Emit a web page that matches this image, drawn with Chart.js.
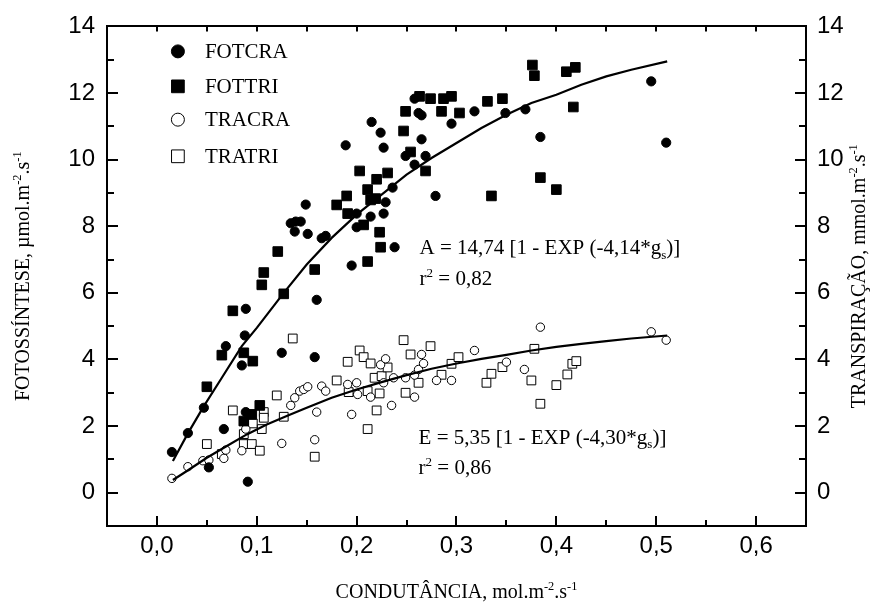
<!DOCTYPE html>
<html>
<head>
<meta charset="utf-8">
<script src="https://cdn.jsdelivr.net/npm/chart.js@4.4.0/dist/chart.umd.min.js"></script>
<style>
html, body { margin: 0; padding: 0; background: #fff; }
</style>
</head>
<body>
<canvas id="chart" width="886" height="612"></canvas>
<script>
// ===========================================
// Data
// ===========================================

// Tick labels
var xTickValues = [0, 0.1, 0.2, 0.3, 0.4, 0.5, 0.6];
var xTickLabels = ["0,0", "0,1", "0,2", "0,3", "0,4", "0,5", "0,6"];
var xMinorValues = [0.05, 0.15, 0.25, 0.35, 0.45, 0.55];
var yTickValues = [0, 2, 4, 6, 8, 10, 12, 14];
var yTickLabels = ["0", "2", "4", "6", "8", "10", "12", "14"];
var yMinorValues = [1, 3, 5, 7, 9, 11, 13];

var seriesNames = ["FOTCRA", "FOTTRI", "TRACRA", "TRATRI"];

// [condutancia, valor]
var fotcra = [
	[0.015, 1.22], [0.031, 1.79], [0.047, 2.55], [0.052, 0.76], [0.067, 1.91],
	[0.085, 3.82], [0.088, 4.72], [0.089, 5.52], [0.069, 4.40], [0.089, 2.42],
	[0.091, 0.33], [0.125, 4.20], [0.158, 4.07], [0.160, 5.79], [0.134, 8.09],
	[0.139, 8.14], [0.144, 8.14], [0.138, 7.84], [0.149, 8.65], [0.151, 7.77],
	[0.165, 7.64], [0.169, 7.71], [0.189, 10.43], [0.195, 6.82], [0.200, 8.38],
	[0.200, 7.97], [0.214, 8.29], [0.215, 11.13], [0.224, 10.81], [0.227, 10.36],
	[0.227, 8.38], [0.229, 8.72], [0.236, 9.16], [0.238, 7.37], [0.249, 10.11],
	[0.258, 9.85], [0.258, 11.83], [0.262, 11.40], [0.265, 11.33], [0.265, 10.61],
	[0.269, 10.11], [0.279, 8.91], [0.295, 11.08], [0.318, 11.45], [0.349, 11.40],
	[0.369, 11.51], [0.384, 10.68], [0.495, 12.35], [0.510, 10.51]
];

var fottri = [
	[0.050, 3.18], [0.065, 4.13], [0.076, 5.46], [0.087, 4.20], [0.096, 3.95],
	[0.087, 2.15], [0.095, 2.35], [0.103, 2.62], [0.105, 6.24], [0.107, 6.61],
	[0.121, 7.24], [0.127, 5.97], [0.158, 6.70], [0.180, 8.64], [0.190, 8.91],
	[0.191, 8.38], [0.203, 9.66], [0.207, 8.04], [0.211, 9.10], [0.211, 6.94],
	[0.214, 8.79], [0.219, 8.83], [0.220, 9.41], [0.223, 7.82], [0.224, 7.37],
	[0.231, 9.60], [0.247, 10.86], [0.249, 11.45], [0.254, 10.23], [0.263, 11.90],
	[0.269, 9.66], [0.274, 11.83], [0.285, 11.45], [0.287, 11.83], [0.295, 11.90],
	[0.303, 11.40], [0.331, 11.75], [0.335, 8.91], [0.346, 11.83], [0.376, 12.84],
	[0.378, 12.52], [0.384, 9.46], [0.400, 9.10], [0.410, 12.64], [0.417, 11.58],
	[0.419, 12.77]
];

var tracra = [
	[0.015, 0.43], [0.031, 0.78], [0.046, 0.96], [0.052, 0.98], [0.067, 1.03],
	[0.069, 1.28], [0.085, 1.26], [0.089, 1.91], [0.125, 1.48], [0.158, 1.59],
	[0.134, 2.62], [0.138, 2.85], [0.143, 3.05], [0.147, 3.10], [0.151, 3.18],
	[0.160, 2.42], [0.165, 3.20], [0.169, 3.05], [0.191, 3.25], [0.195, 2.35],
	[0.200, 3.30], [0.201, 2.95], [0.214, 2.87], [0.224, 3.84], [0.227, 3.30],
	[0.229, 4.02], [0.235, 2.62], [0.237, 3.45], [0.249, 3.45], [0.258, 3.53],
	[0.258, 2.87], [0.262, 3.70], [0.267, 3.88], [0.265, 4.15], [0.280, 3.37],
	[0.295, 3.37], [0.318, 4.27], [0.350, 3.92], [0.368, 3.70], [0.384, 4.97],
	[0.495, 4.83], [0.510, 4.58]
];

var tratri = [
	[0.050, 1.46], [0.065, 1.16], [0.076, 2.47], [0.087, 1.46], [0.087, 1.76],
	[0.095, 1.46], [0.096, 2.08], [0.103, 1.26], [0.105, 1.91], [0.107, 2.42],
	[0.107, 2.25], [0.120, 2.92], [0.127, 2.28], [0.136, 4.63], [0.158, 1.08],
	[0.180, 3.37], [0.191, 3.93], [0.192, 3.02], [0.203, 4.27], [0.207, 4.07],
	[0.211, 3.05], [0.211, 1.91], [0.214, 3.88], [0.218, 3.45], [0.220, 2.47],
	[0.223, 2.98], [0.225, 3.50], [0.231, 3.76], [0.247, 4.58], [0.249, 3.00],
	[0.254, 4.15], [0.262, 3.30], [0.274, 4.40], [0.285, 3.54], [0.295, 3.87],
	[0.302, 4.07], [0.330, 3.30], [0.335, 3.57], [0.346, 3.77], [0.375, 3.37],
	[0.378, 4.32], [0.384, 2.67], [0.400, 3.23], [0.411, 3.55], [0.416, 3.87],
	[0.420, 3.95]
];

// fitted curves
var fitA = [
	[0.016, 0.95], [0.031, 1.78], [0.047, 2.60], [0.065, 3.45], [0.085, 4.40],
	[0.100, 4.95], [0.127, 6.00], [0.150, 6.85], [0.175, 7.65], [0.200, 8.35],
	[0.225, 8.95], [0.250, 9.55], [0.275, 10.05], [0.300, 10.50], [0.325, 10.95],
	[0.350, 11.35], [0.375, 11.70], [0.400, 11.95], [0.425, 12.25], [0.450, 12.50],
	[0.475, 12.70], [0.511, 12.95]
];

var fitE = [
	[0.016, 0.38], [0.030, 0.65], [0.050, 1.05], [0.070, 1.40], [0.090, 1.75],
	[0.110, 2.05], [0.130, 2.30], [0.150, 2.55], [0.175, 2.85], [0.200, 3.10],
	[0.225, 3.32], [0.250, 3.53], [0.275, 3.72], [0.300, 3.88], [0.325, 4.02],
	[0.350, 4.14], [0.375, 4.27], [0.400, 4.38], [0.425, 4.47], [0.450, 4.55],
	[0.475, 4.63], [0.511, 4.72]
];

// text pieces: [text, 0 normal / 1 superscript / -1 subscript]
var eqA = [["A = 14,74 [1 - EXP (-4,14*g", 0], ["s", -1], [")]", 0]];
var r2A = [["r", 0], ["2", 1], [" = 0,82", 0]];
var eqE = [["E = 5,35 [1 - EXP (-4,30*g", 0], ["s", -1], [")]", 0]];
var r2E = [["r", 0], ["2", 1], [" = 0,86", 0]];
var xTitle = [["CONDUTÂNCIA, mol.m", 0], ["-2", 1], [".s", 0], ["-1", 1]];
var yTitle = [["FOTOSSÍNTESE, µmol.m", 0], ["-2", 1], [".s", 0], ["-1", 1]];
var y2Title = [["TRANSPIRAÇÃO, mmol.m", 0], ["-2", 1], [".s", 0], ["-1", 1]];

// ===========================================
// Functions
// ===========================================
var serif = '"Liberation Serif", "Times New Roman", serif';
var sans = '"Liberation Sans", Arial, sans-serif';

function toPoints(list) {
	return list.map(function (p) { return { x: p[0], y: p[1] }; });
}

function drawRich(ctx, parts, x, y, size, align) {
	var w = 0;
	parts.forEach(function (p) {
		ctx.font = (p[1] ? size * 0.62 : size) + 'px ' + serif;
		w += ctx.measureText(p[0]).width;
	});
	var cx = align === 'center' ? x - w / 2 : x;
	parts.forEach(function (p) {
		var fs = p[1] ? size * 0.62 : size;
		var dy = p[1] === 1 ? -size * 0.38 : (p[1] === -1 ? size * 0.22 : 0);
		ctx.font = fs + 'px ' + serif;
		ctx.fillText(p[0], cx, y + dy);
		cx += ctx.measureText(p[0]).width;
	});
}

function scatterSet(name, list, style, filled, radius) {
	return {
		type: 'scatter',
		label: name,
		data: toPoints(list),
		pointStyle: style,
		pointRadius: radius,
		pointHoverRadius: radius,
		backgroundColor: filled ? '#000' : '#fff',
		borderColor: '#000',
		borderWidth: 1,
		order: 2
	};
}

function lineSet(list) {
	return {
		type: 'line',
		data: toPoints(list),
		borderColor: '#000',
		borderWidth: 2.2,
		pointRadius: 0,
		tension: 0,
		fill: false,
		order: 1
	};
}

var decor = {
	id: 'decor',
	afterDraw: function (chart) {
		var ctx = chart.ctx;
		var a = chart.chartArea;
		var sx = chart.scales.x, sy = chart.scales.y;
		ctx.save();
		ctx.strokeStyle = '#000';
		ctx.fillStyle = '#000';
		ctx.lineWidth = 2;
		ctx.beginPath();
		function xt(list, lb, lt) {
			list.forEach(function (v) {
				var p = Math.round(sx.getPixelForValue(v));
				ctx.moveTo(p, a.bottom); ctx.lineTo(p, a.bottom - lb);
				ctx.moveTo(p, a.top); ctx.lineTo(p, a.top + lt);
			});
		}
		function yt(list, len) {
			list.forEach(function (v) {
				var p = Math.round(sy.getPixelForValue(v));
				ctx.moveTo(a.left, p); ctx.lineTo(a.left + len, p);
				ctx.moveTo(a.right, p); ctx.lineTo(a.right - len, p);
			});
		}
		xt(xTickValues, 10, 5);
		xt(xMinorValues, 6, 5);
		yt(yTickValues, 11);
		yt(yMinorValues, 7);
		ctx.stroke();

		// legend
		var lx = sx.getPixelForValue(0.021);
		var rows = [13.25, 12.2, 11.2, 10.1];
		var styles = [['circle', true, 6.5], ['rect', true, 9], ['circle', false, 6.5], ['rect', false, 9]];
		ctx.textBaseline = 'middle';
		rows.forEach(function (r, i) {
			var ly = sy.getPixelForValue(r);
			ctx.fillStyle = styles[i][1] ? '#000' : '#fff';
			ctx.strokeStyle = '#000';
			ctx.lineWidth = 1;
			Chart.helpers.drawPoint(ctx, { pointStyle: styles[i][0], radius: styles[i][2], rotation: 0, borderWidth: 1 }, lx, ly);
			ctx.fillStyle = '#000';
			ctx.font = '21px ' + serif;
			ctx.fillText(seriesNames[i], lx + 27, ly + 1);
		});

		// equations
		ctx.textBaseline = 'alphabetic';
		ctx.fillStyle = '#000';
		drawRich(ctx, eqA, sx.getPixelForValue(0.263), sy.getPixelForValue(7.16), 21, 'left');
		drawRich(ctx, r2A, sx.getPixelForValue(0.263), sy.getPixelForValue(6.25), 21, 'left');
		drawRich(ctx, eqE, sx.getPixelForValue(0.262), sy.getPixelForValue(1.47), 21, 'left');
		drawRich(ctx, r2E, sx.getPixelForValue(0.262), sy.getPixelForValue(0.57), 21, 'left');

		// axis titles
		var mx = (a.left + a.right) / 2, my = (a.top + a.bottom) / 2;
		drawRich(ctx, xTitle, mx, 598, 20, 'center');
		ctx.save();
		ctx.translate(29, my);
		ctx.rotate(-Math.PI / 2);
		drawRich(ctx, yTitle, 0, 0, 20, 'center');
		ctx.restore();
		ctx.save();
		ctx.translate(865, my);
		ctx.rotate(-Math.PI / 2);
		drawRich(ctx, y2Title, 0, 0, 20, 'center');
		ctx.restore();
		ctx.restore();
	}
};

function fixTicks(values) {
	return function (scale) {
		scale.ticks = values.map(function (v) { return { value: v }; });
	};
}

var frame = { display: true, color: '#000', width: 2 };
var tickFont = { family: sans, size: 24 };

new Chart(document.getElementById('chart'), {
	data: {
		datasets: [
			lineSet(fitA),
			lineSet(fitE),
			scatterSet(seriesNames[0], fotcra, 'circle', true, 4.6),
			scatterSet(seriesNames[1], fottri, 'rect', true, 6.8),
			scatterSet(seriesNames[2], tracra, 'circle', false, 4.2),
			scatterSet(seriesNames[3], tratri, 'rect', false, 6.2)
		]
	},
	options: {
		responsive: false,
		animation: false,
		events: [],
		layout: { padding: 0 },
		plugins: { legend: { display: false }, tooltip: { enabled: false } },
		scales: {
			x: {
				type: 'linear', position: 'bottom', min: -0.05, max: 0.65,
				grid: { display: false, drawTicks: false }, border: frame,
				afterBuildTicks: fixTicks(xTickValues),
				afterFit: function (s) { s.height = 86; },
				ticks: {
					font: tickFont, color: '#000', padding: 6, autoSkip: false, maxRotation: 0,
					callback: function (v, i) { return xTickLabels[i]; }
				}
			},
			x2: {
				type: 'linear', position: 'top', min: -0.05, max: 0.65,
				grid: { display: false, drawTicks: false }, border: frame,
				afterFit: function (s) { s.height = 24; },
				ticks: { display: false }
			},
			y: {
				type: 'linear', position: 'left', min: -1, max: 14,
				grid: { display: false, drawTicks: false }, border: frame,
				afterBuildTicks: fixTicks(yTickValues),
				afterFit: function (s) { s.width = 107; },
				ticks: {
					font: tickFont, color: '#000', padding: 12, autoSkip: false,
					callback: function (v, i) { return yTickLabels[i]; }
				}
			},
			y2: {
				type: 'linear', position: 'right', min: -1, max: 14,
				grid: { display: false, drawTicks: false }, border: frame,
				afterBuildTicks: fixTicks(yTickValues),
				afterFit: function (s) { s.width = 80; },
				ticks: {
					font: tickFont, color: '#000', padding: 11, autoSkip: false,
					callback: function (v, i) { return yTickLabels[i]; }
				}
			}
		}
	},
	plugins: [decor]
});
</script>
</body>
</html>
